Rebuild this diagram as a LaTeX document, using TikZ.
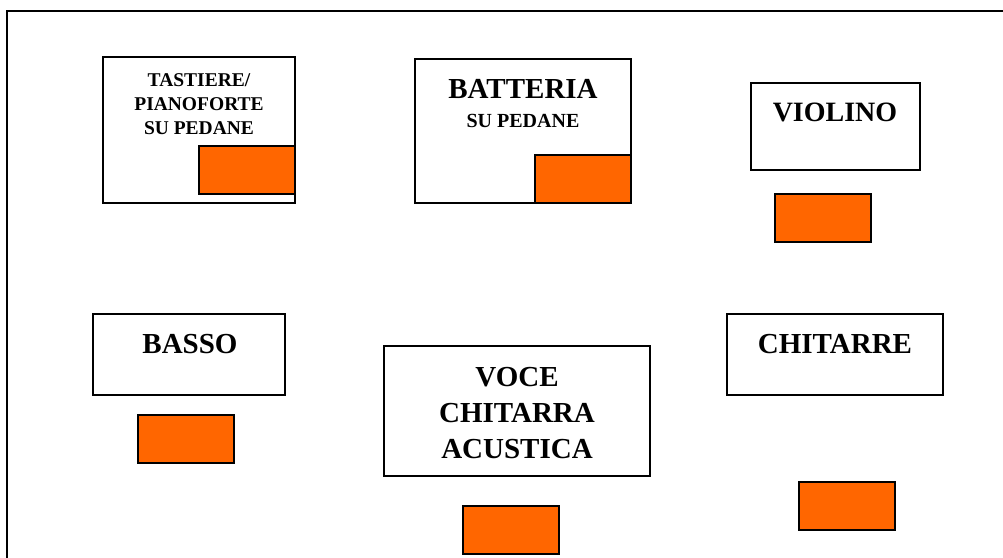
\documentclass[tikz,border=0pt]{standalone}
\usepackage{fontspec}
\setmainfont{Liberation Serif}
\begin{document}
\begin{tikzpicture}[x=1pt,y=-1pt,
  zone/.style={draw,line width=1.5pt,inner sep=0pt},
  amp/.style={draw,line width=1.5pt,fill=ampcol,inner sep=0pt,minimum width=96pt,minimum height=48pt},
  big/.style={font=\bfseries\fontsize{29}{36}\selectfont,align=center,inner sep=0pt},
  small/.style={font=\bfseries\fontsize{19.5}{24}\selectfont,align=center,inner sep=0pt}]
\definecolor{ampcol}{HTML}{FF6600}
\useasboundingbox (0,0) rectangle (1003,557);
\draw[line width=2pt] (7,11) rectangle (1030,590);
% tastiere
\node[zone,minimum width=192pt,minimum height=146pt] (tastiere) at (199,130) {};
\node[amp] (tastiereamp) at (247,170) {};
\node[small] (tastieretxt) at (199,104) {TASTIERE/\\PIANOFORTE\\SU PEDANE};
% batteria
\node[zone,minimum width=216pt,minimum height=144pt] (batteria) at (523,131) {};
\node[amp] (batteriaamp) at (583,179) {};
\node[big] (batteriatxt) at (523,89) {BATTERIA};
\node[font=\bfseries\fontsize{20}{24}\selectfont,inner sep=0pt] (batteriasub) at (523,121) {SU PEDANE};
% violino
\node[zone,minimum width=169pt,minimum height=87pt] (violino) at (835.5,126.5) {};
\node[big,font=\bfseries\fontsize{28}{34}\selectfont] (violinotxt) at (835,112) {VIOLINO};
\node[amp] (violinoamp) at (823,218) {};
% basso
\node[zone,minimum width=192pt,minimum height=81pt] (basso) at (189,354.5) {};
\node[big] (bassotxt) at (190,344) {BASSO};
\node[amp] (bassoamp) at (186,439) {};
% voce
\node[zone,minimum width=266pt,minimum height=130pt] (voce) at (517,411) {};
\node[big] (vocetxt) at (517,413) {VOCE\\CHITARRA\\ACUSTICA};
\node[amp] (voceamp) at (511,530) {};
% chitarre
\node[zone,minimum width=216pt,minimum height=81pt] (chitarre) at (835,354.5) {};
\node[big] (chitarretxt) at (835,344) {CHITARRE};
\node[amp] (chitarreamp) at (847,506) {};
\end{tikzpicture}
\end{document}
